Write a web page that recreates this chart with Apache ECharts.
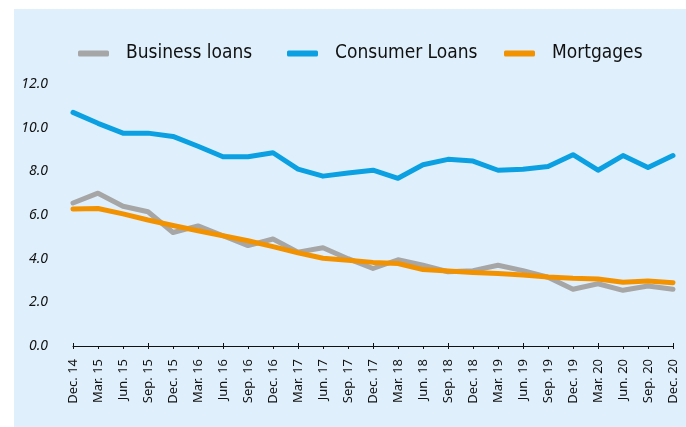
<!DOCTYPE html>
<html>
<head>
<meta charset="utf-8">
<script src="https://cdn.jsdelivr.net/npm/echarts@6/dist/echarts.min.js"></script>
<style>
html,body{margin:0;padding:0;background:#fff;}
#c{width:686px;height:427px;}
</style>
</head>
<body>
<div id="c"></div>
<script>
const categories = ["Dec. 14","Mar. 15","Jun. 15","Sep. 15","Dec. 15","Mar. 16","Jun. 16","Sep. 16","Dec. 16","Mar. 17","Jun. 17","Sep. 17","Dec. 17","Mar. 18","Jun. 18","Sep. 18","Dec. 18","Mar. 19","Jun. 19","Sep. 19","Dec. 19","Mar. 20","Jun. 20","Sep. 20","Dec. 20"];
const businessLoans = [6.55,7.0,6.4,6.15,5.2,5.5,5.05,4.6,4.9,4.3,4.5,4.0,3.55,3.95,3.7,3.4,3.45,3.7,3.45,3.15,2.6,2.85,2.55,2.75,2.6];
const consumerLoans = [10.7,10.2,9.75,9.75,9.6,9.15,8.67,8.67,8.85,8.1,7.78,7.92,8.05,7.68,8.3,8.55,8.47,8.05,8.1,8.22,8.76,8.05,8.72,8.18,8.72];
const mortgages = [6.27,6.3,6.05,5.77,5.52,5.28,5.05,4.82,4.55,4.27,4.02,3.93,3.83,3.78,3.5,3.44,3.37,3.32,3.25,3.16,3.1,3.07,2.92,2.98,2.9];
const seriesNames = ['Business loans','Consumer Loans','Mortgages'];
const yTicks = [0,2,4,6,8,10,12];

const chart = echarts.init(document.getElementById('c'));
const font = '"DejaVu Sans Condensed","Liberation Sans Narrow","Noto Sans",sans-serif';
function mk(name, data, color){
  return {name, type:'line', data, symbol:'none', smooth:false,
    lineStyle:{width:5, color, cap:'round', join:'round'}, itemStyle:{color}};
}
function lg(name, left){
  return {top:39, left, itemWidth:31, itemHeight:6, icon:'roundRect',
    textStyle:{fontFamily:font, fontSize:19, color:'#111', padding:[0,0,0,12]},
    data:[name]};
}
chart.setOption({
  animation:false,
  graphic:[{type:'rect', z:-10, shape:{x:14,y:9,width:672,height:418}, style:{fill:'#dff0fc'}}],
  legend:[lg(seriesNames[0],73), lg(seriesNames[1],282), lg(seriesNames[2],499)],
  grid:{left:73, right:13, top:84, bottom:81},
  xAxis:[{type:'category', data:categories, boundaryGap:false,
    axisLine:{lineStyle:{color:'#111', width:1}},
    axisTick:{show:true, length:3, inside:false, lineStyle:{color:'#111'}},
    axisLabel:{rotate:90, interval:0, fontFamily:'"Noto Sans",sans-serif', fontSize:13, color:'#111', margin:13}},
   {type:'category', data:categories, boundaryGap:false, position:'bottom',
    axisLine:{show:false}, axisTick:{show:true, length:3, inside:true, lineStyle:{color:'#111'}},
    axisLabel:{show:false}}],
  yAxis:{type:'value', min:0, max:12, interval:2,
    axisLine:{show:false}, axisTick:{show:false}, splitLine:{show:false},
    axisLabel:{formatter:v=>yTicks.includes(v)?v.toFixed(1):'', fontStyle:'italic', fontFamily:'"Noto Sans",sans-serif', fontSize:14, color:'#111', margin:25}},
  series:[mk(seriesNames[0], businessLoans, '#a6a6a6'),
          mk(seriesNames[1], consumerLoans, '#0aa0e2'),
          mk(seriesNames[2], mortgages, '#f39200')]
});
</script>
</body>
</html>
